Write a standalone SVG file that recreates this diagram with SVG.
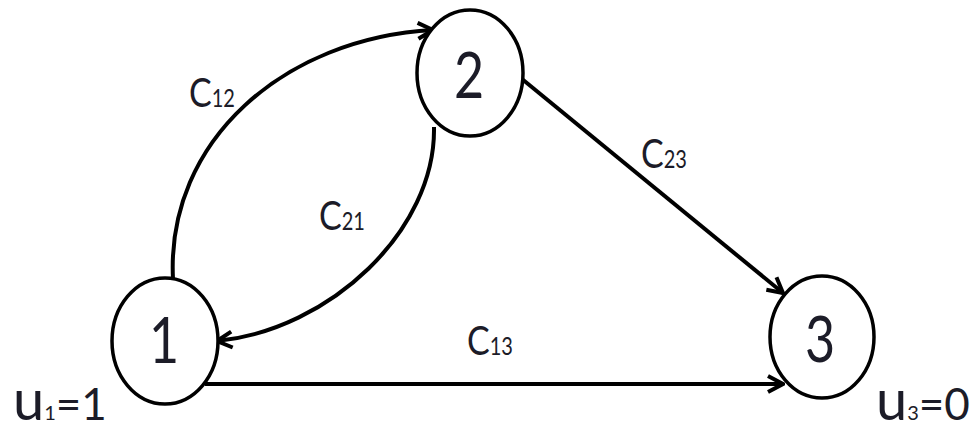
<svg xmlns="http://www.w3.org/2000/svg" width="975" height="433" viewBox="0 0 975 433">
<style>
.node{fill:#fff;stroke:#000;stroke-width:3.5}
.num{font-family:Lato,"Liberation Sans",sans-serif;font-size:52px;fill:#1c1c28;text-anchor:middle}
.lbl{font-family:Lato,"Liberation Sans",sans-serif;font-size:34px;fill:#1c1c28}
.sub{font-size:20px}
.big{font-size:56px}
.mid{font-size:44px}
.edge{fill:none;stroke:#000;stroke-width:4;marker-end:url(#arr)}
</style>
<defs>
<marker id="arr" viewBox="0 0 20 20" refX="18" refY="10" markerWidth="20" markerHeight="20" markerUnits="userSpaceOnUse" orient="auto">
<path d="M3,2 L18,10 L3,18" fill="none" stroke="#000" stroke-width="4" stroke-linejoin="miter"/>
</marker>
</defs>
<g id="connectors">
<path id="e12" class="edge" d="M173,279 C166,140 285,38 433,30"/>
<path id="e21" class="edge" d="M434,127 C436,230 330,330 217,341"/>
<path id="e23" class="edge" d="M522,79 L783,293"/>
<path id="e13" class="edge" d="M205,384 L783,384"/>
</g>
<g id="node1">
<ellipse class="node" cx="165" cy="341" rx="53" ry="63"/>
<text class="num" transform="translate(164,363) scale(1,1.22)">1</text>
</g>
<g id="node2">
<ellipse class="node" cx="470" cy="73" rx="53" ry="63"/>
<text class="num" transform="translate(469,98) scale(1,1.22)">2</text>
</g>
<g id="node3">
<ellipse class="node" cx="822" cy="337" rx="52" ry="61"/>
<text class="num" transform="translate(820,362) scale(1,1.22)">3</text>
</g>
<g id="labels">
<text class="lbl" transform="translate(189,107) scale(1,1.22)">C<tspan class="sub">12</tspan></text>
<text class="lbl" transform="translate(319,230) scale(1,1.22)">C<tspan class="sub">21</tspan></text>
<text class="lbl" transform="translate(641,168) scale(1,1.22)">C<tspan class="sub">23</tspan></text>
<text class="lbl" transform="translate(467,355) scale(1,1.22)">C<tspan class="sub">13</tspan></text>
<text class="lbl" x="13" y="420"><tspan class="big">u</tspan><tspan class="sub">1</tspan><tspan class="mid">=1</tspan></text>
<text class="lbl" x="876" y="420"><tspan class="big">u</tspan><tspan class="sub">3</tspan><tspan class="mid">=0</tspan></text>
</g>
</svg>
